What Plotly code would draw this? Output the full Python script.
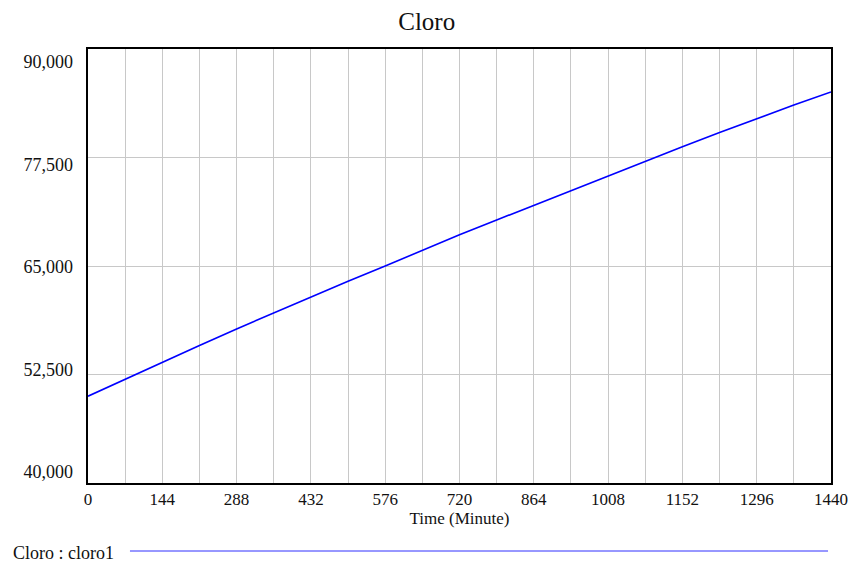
import plotly.graph_objects as go

# Data
time_minutes = [0, 72, 144, 216, 288, 360, 432, 504, 576, 648, 720,
                792, 864, 936, 1008, 1080, 1152, 1224, 1296, 1368, 1440]
cloro1 = [50000, 51950, 53950, 55850, 57750, 59600, 61400, 63250, 65000,
          66800, 68600, 70300, 72000, 73650, 75400, 77100, 78750, 80380,
          82000, 83550, 85050]
x_ticks = [0, 144, 288, 432, 576, 720, 864, 1008, 1152, 1296, 1440]
y_ticks = [40000, 52500, 65000, 77500, 90000]
y_tick_labels = ["40,000", "52,500", "65,000", "77,500", "90,000"]

FONT = "Liberation Serif"
TXT = "#111111"

fig = go.Figure()
fig.add_trace(go.Scatter(
    x=time_minutes, y=cloro1, mode="lines",
    line=dict(color="#0000ff", width=1.6),
    name="Cloro : cloro1", showlegend=False, hoverinfo="x+y",
))
# invisible companion trace so the label axis is rendered
fig.add_trace(go.Scatter(
    x=time_minutes, y=cloro1, mode="lines", yaxis="y2",
    line=dict(color="rgba(0,0,0,0)", width=0),
    showlegend=False, hoverinfo="skip",
))

fig.update_layout(
    width=851, height=563,
    margin=dict(l=88, r=20, t=49, b=80, autoexpand=False),
    paper_bgcolor="white", plot_bgcolor="white",
    font=dict(family=FONT, color=TXT, size=18),
    title=dict(text="Cloro", x=0.5014, xanchor="center", y=0.9627, yanchor="middle",
               font=dict(family=FONT, size=25, color=TXT)),
    xaxis=dict(
        range=[0, 1440], tickvals=x_ticks, ticktext=[str(v) for v in x_ticks],
        showgrid=True, gridcolor="#c8c8c8", gridwidth=1,
        minor=dict(dtick=72, tick0=0, showgrid=True, gridcolor="#c8c8c8", gridwidth=1),
        showline=True, linecolor="black", linewidth=2, mirror=True,
        ticks="", ticklabelstandoff=0, zeroline=False, automargin=False,
        ticklabeloverflow="allow",
        tickfont=dict(family=FONT, size=17, color=TXT),
        title=dict(text="Time (Minute)", standoff=0,
                   font=dict(family=FONT, size=17, color=TXT)),
    ),
    yaxis=dict(
        range=[40000, 90000], tickvals=y_ticks, showticklabels=False,
        showgrid=True, gridcolor="#c8c8c8", gridwidth=1,
        showline=True, linecolor="black", linewidth=2, mirror=True,
        ticks="", zeroline=False, automargin=False,
    ),
    yaxis2=dict(
        overlaying="y", side="left", range=[38659, 91585],
        tickvals=y_ticks, ticktext=y_tick_labels,
        showgrid=False, showline=False, zeroline=False, ticks="",
        ticklabelstandoff=14, automargin=False, ticklabeloverflow="allow",
        tickfont=dict(family=FONT, size=18, color=TXT),
    ),
    shapes=[dict(type="line", xref="paper", yref="paper",
                 x0=0.0565, x1=0.996, y0=-0.1567, y1=-0.1567,
                 line=dict(color="#3030ff", width=1))],
    annotations=[dict(text="Cloro : cloro1", xref="paper", yref="paper",
                      x=-0.103, y=-0.161, xanchor="left", yanchor="middle",
                      showarrow=False, font=dict(family=FONT, size=18, color=TXT))],
)

fig.write_html(
    "out.html",
    config={"displayModeBar": False},
    post_script="document.body.style.margin='0';document.body.style.overflow='hidden';",
)
